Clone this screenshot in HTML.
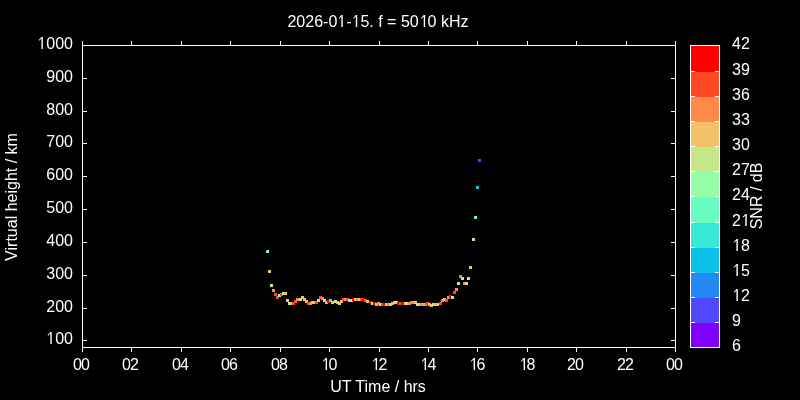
<!DOCTYPE html>
<html><head><meta charset="utf-8"><style>
html,body{margin:0;padding:0;background:#000;width:800px;height:400px;overflow:hidden}
svg{display:block;will-change:transform}
text.xl{letter-spacing:-1px}
text .h{fill-opacity:0}
text{font-family:"Liberation Sans",sans-serif;font-size:16px;fill:#fff}
</style></head><body>
<svg width="800" height="400" viewBox="0 0 800 400">
<rect width="800" height="400" fill="#000"/>
<g shape-rendering="crispEdges">
<rect x="691" y="323" width="28" height="25" fill="#8000ff"/><rect x="691" y="298" width="28" height="25" fill="#5148fc"/><rect x="691" y="273" width="28" height="25" fill="#238af5"/><rect x="691" y="248" width="28" height="25" fill="#0cc1e8"/><rect x="691" y="223" width="28" height="25" fill="#3ae8d7"/><rect x="691" y="197" width="28" height="26" fill="#68fcc1"/><rect x="691" y="172" width="28" height="25" fill="#97fca7"/><rect x="691" y="147" width="28" height="25" fill="#c5e88a"/><rect x="691" y="122" width="28" height="25" fill="#f3c16a"/><rect x="691" y="97" width="28" height="25" fill="#ff8a48"/><rect x="691" y="72" width="28" height="25" fill="#ff4824"/><rect x="691" y="46" width="28" height="26" fill="#ff0000"/>
<rect x="266" y="250" width="3" height="3" fill="#68fcc1"/><rect x="268" y="270" width="3" height="3" fill="#f3c16a"/><rect x="270" y="284" width="3" height="3" fill="#c5e88a"/><rect x="272" y="289" width="3" height="3" fill="#ff8a48"/><rect x="274" y="293" width="3" height="3" fill="#ff4824"/><rect x="276" y="296" width="3" height="3" fill="#ff4824"/><rect x="278" y="294" width="3" height="3" fill="#97fca7"/><rect x="280" y="293" width="3" height="3" fill="#ff4824"/><rect x="282" y="292" width="3" height="3" fill="#c5e88a"/><rect x="284" y="292" width="3" height="3" fill="#f3c16a"/><rect x="286" y="299" width="3" height="3" fill="#f3c16a"/><rect x="288" y="302" width="3" height="3" fill="#97fca7"/><rect x="290" y="302" width="3" height="3" fill="#f3c16a"/><rect x="292" y="302" width="3" height="3" fill="#ff4824"/><rect x="294" y="300" width="3" height="3" fill="#ff4824"/><rect x="296" y="298" width="3" height="3" fill="#ff8a48"/><rect x="299" y="298" width="3" height="3" fill="#c5e88a"/><rect x="301" y="296" width="3" height="3" fill="#f3c16a"/><rect x="303" y="298" width="3" height="3" fill="#f3c16a"/><rect x="305" y="300" width="3" height="3" fill="#f3c16a"/><rect x="307" y="302" width="3" height="3" fill="#ff4824"/><rect x="309" y="302" width="3" height="3" fill="#ff8a48"/><rect x="311" y="301" width="3" height="3" fill="#f3c16a"/><rect x="313" y="301" width="3" height="3" fill="#f3c16a"/><rect x="315" y="301" width="3" height="3" fill="#ff4824"/><rect x="317" y="299" width="3" height="3" fill="#c5e88a"/><rect x="319" y="296" width="3" height="3" fill="#ff4824"/><rect x="321" y="297" width="3" height="3" fill="#ff8a48"/><rect x="323" y="299" width="3" height="3" fill="#97fca7"/><rect x="325" y="301" width="3" height="3" fill="#f3c16a"/><rect x="327" y="300" width="3" height="3" fill="#ff0000"/><rect x="329" y="299" width="3" height="3" fill="#3ae8d7"/><rect x="331" y="301" width="3" height="3" fill="#f3c16a"/><rect x="334" y="300" width="3" height="3" fill="#c5e88a"/><rect x="336" y="301" width="3" height="3" fill="#f3c16a"/><rect x="338" y="302" width="3" height="3" fill="#c5e88a"/><rect x="340" y="300" width="3" height="3" fill="#f3c16a"/><rect x="342" y="298" width="3" height="3" fill="#ff4824"/><rect x="344" y="298" width="3" height="3" fill="#ff8a48"/><rect x="346" y="298" width="3" height="3" fill="#ff4824"/><rect x="348" y="299" width="3" height="3" fill="#97fca7"/><rect x="350" y="299" width="3" height="3" fill="#c5e88a"/><rect x="352" y="298" width="3" height="3" fill="#ff0000"/><rect x="354" y="298" width="3" height="3" fill="#f3c16a"/><rect x="356" y="298" width="3" height="3" fill="#ff8a48"/><rect x="358" y="298" width="3" height="3" fill="#f3c16a"/><rect x="360" y="298" width="3" height="3" fill="#ff4824"/><rect x="362" y="298" width="3" height="3" fill="#ff0000"/><rect x="364" y="299" width="3" height="3" fill="#ff4824"/><rect x="366" y="300" width="3" height="3" fill="#f3c16a"/><rect x="369" y="301" width="3" height="3" fill="#ff0000"/><rect x="371" y="302" width="3" height="3" fill="#c5e88a"/><rect x="373" y="302" width="3" height="3" fill="#ff0000"/><rect x="375" y="303" width="3" height="3" fill="#f3c16a"/><rect x="377" y="302" width="3" height="3" fill="#ff8a48"/><rect x="379" y="303" width="3" height="3" fill="#97fca7"/><rect x="381" y="303" width="3" height="3" fill="#ff4824"/><rect x="383" y="303" width="3" height="3" fill="#ff0000"/><rect x="385" y="303" width="3" height="3" fill="#f3c16a"/><rect x="387" y="303" width="3" height="3" fill="#ff8a48"/><rect x="389" y="303" width="3" height="3" fill="#f3c16a"/><rect x="391" y="302" width="3" height="3" fill="#f3c16a"/><rect x="393" y="301" width="3" height="3" fill="#f3c16a"/><rect x="395" y="301" width="3" height="3" fill="#c5e88a"/><rect x="397" y="302" width="3" height="3" fill="#ff0000"/><rect x="399" y="302" width="3" height="3" fill="#ff4824"/><rect x="401" y="302" width="3" height="3" fill="#ff0000"/><rect x="404" y="302" width="3" height="3" fill="#c5e88a"/><rect x="406" y="302" width="3" height="3" fill="#c5e88a"/><rect x="408" y="302" width="3" height="3" fill="#ff8a48"/><rect x="410" y="301" width="3" height="3" fill="#ff8a48"/><rect x="412" y="301" width="3" height="3" fill="#ff8a48"/><rect x="414" y="301" width="3" height="3" fill="#f3c16a"/><rect x="416" y="303" width="3" height="3" fill="#c5e88a"/><rect x="418" y="303" width="3" height="3" fill="#f3c16a"/><rect x="420" y="303" width="3" height="3" fill="#ff8a48"/><rect x="422" y="303" width="3" height="3" fill="#3ae8d7"/><rect x="424" y="303" width="3" height="3" fill="#ff8a48"/><rect x="426" y="302" width="3" height="3" fill="#ff4824"/><rect x="428" y="303" width="3" height="3" fill="#f3c16a"/><rect x="430" y="304" width="3" height="3" fill="#f3c16a"/><rect x="432" y="303" width="3" height="3" fill="#c5e88a"/><rect x="434" y="303" width="3" height="3" fill="#f3c16a"/><rect x="436" y="303" width="3" height="3" fill="#f3c16a"/><rect x="439" y="302" width="3" height="3" fill="#ff4824"/><rect x="441" y="299" width="3" height="3" fill="#ff8a48"/><rect x="443" y="298" width="3" height="3" fill="#f3c16a"/><rect x="445" y="299" width="3" height="3" fill="#ff4824"/><rect x="447" y="296" width="3" height="3" fill="#ff8a48"/><rect x="449" y="295" width="3" height="3" fill="#ff0000"/><rect x="451" y="296" width="3" height="3" fill="#c5e88a"/><rect x="453" y="291" width="3" height="3" fill="#ff4824"/><rect x="455" y="288" width="3" height="3" fill="#ff8a48"/><rect x="457" y="282" width="3" height="3" fill="#c5e88a"/><rect x="459" y="275" width="3" height="3" fill="#ff8a48"/><rect x="461" y="277" width="3" height="3" fill="#c5e88a"/><rect x="463" y="282" width="3" height="3" fill="#ff8a48"/><rect x="465" y="282" width="3" height="3" fill="#c5e88a"/><rect x="467" y="277" width="3" height="3" fill="#97fca7"/><rect x="469" y="266" width="3" height="3" fill="#f3c16a"/><rect x="472" y="238" width="3" height="3" fill="#c5e88a"/><rect x="474" y="216" width="3" height="3" fill="#68fcc1"/><rect x="476" y="186" width="3" height="3" fill="#0cc1e8"/><rect x="478" y="159" width="3" height="3" fill="#5148fc"/>
</g>
<path d="M82 45.5H676 M82 347.5H676 M82.5 45V348 M675.5 45V348 M82.5 41V45 M82.5 348V352 M131.5 41V45 M131.5 348V352 M181.5 41V45 M181.5 348V352 M230.5 41V45 M230.5 348V352 M280.5 41V45 M280.5 348V352 M329.5 41V45 M329.5 348V352 M379.5 41V45 M379.5 348V352 M428.5 41V45 M428.5 348V352 M477.5 41V45 M477.5 348V352 M527.5 41V45 M527.5 348V352 M576.5 41V45 M576.5 348V352 M626.5 41V45 M626.5 348V352 M675.5 41V45 M675.5 348V352 M83 45.5H87 M671 45.5H675 M83 78.5H87 M671 78.5H675 M83 111.5H87 M671 111.5H675 M83 143.5H87 M671 143.5H675 M83 176.5H87 M671 176.5H675 M83 209.5H87 M671 209.5H675 M83 242.5H87 M671 242.5H675 M83 275.5H87 M671 275.5H675 M83 308.5H87 M671 308.5H675 M83 340.5H87 M671 340.5H675" stroke="#fff" stroke-width="1" fill="none" shape-rendering="crispEdges"/>
<path d="M690.5 45V348 M719.5 45V348 M690 45.5H720 M690 347.5H720 M691 71.5H695 M715 71.5H719 M691 96.5H695 M715 96.5H719 M691 121.5H695 M715 121.5H719 M691 146.5H695 M715 146.5H719 M691 171.5H695 M715 171.5H719 M691 196.5H695 M715 196.5H719 M691 222.5H695 M715 222.5H719 M691 247.5H695 M715 247.5H719 M691 272.5H695 M715 272.5H719 M691 297.5H695 M715 297.5H719 M691 322.5H695 M715 322.5H719" stroke="#fff" stroke-width="1" fill="none" shape-rendering="crispEdges"/>
<text x="378" y="27" text-anchor="middle">2026-0<tspan class="h">1</tspan>-<tspan class="h">1</tspan>5. f = 50<tspan class="h">1</tspan>0 kHz</text>
<text x="73" y="49" text-anchor="end"><tspan class="h">1</tspan>000</text>
<text x="73" y="82" text-anchor="end">900</text>
<text x="73" y="115" text-anchor="end">800</text>
<text x="73" y="147" text-anchor="end">700</text>
<text x="73" y="180" text-anchor="end">600</text>
<text x="73" y="213" text-anchor="end">500</text>
<text x="73" y="246" text-anchor="end">400</text>
<text x="73" y="279" text-anchor="end">300</text>
<text x="73" y="312" text-anchor="end">200</text>
<text x="73" y="344" text-anchor="end"><tspan class="h">1</tspan>00</text>
<text x="73.1" y="370" text-anchor="start" class="xl">00</text>
<text x="122.1" y="370" text-anchor="start" class="xl">02</text>
<text x="172.1" y="370" text-anchor="start" class="xl">04</text>
<text x="221.1" y="370" text-anchor="start" class="xl">06</text>
<text x="271.1" y="370" text-anchor="start" class="xl">08</text>
<text x="320.7" y="370" text-anchor="start" class="xl"><tspan class="h">1</tspan>0</text>
<text x="370.7" y="370" text-anchor="start" class="xl"><tspan class="h">1</tspan>2</text>
<text x="419.7" y="370" text-anchor="start" class="xl"><tspan class="h">1</tspan>4</text>
<text x="468.7" y="370" text-anchor="start" class="xl"><tspan class="h">1</tspan>6</text>
<text x="518.7" y="370" text-anchor="start" class="xl"><tspan class="h">1</tspan>8</text>
<text x="567.1" y="370" text-anchor="start" class="xl">20</text>
<text x="617.1" y="370" text-anchor="start" class="xl">22</text>
<text x="666.1" y="370" text-anchor="start" class="xl">00</text>
<text x="378" y="392" text-anchor="middle">UT Time / hrs</text>
<text x="0" y="0" text-anchor="middle" transform="translate(17,197) rotate(-90)">Virtual height / km</text>
<text x="0" y="0" text-anchor="middle" transform="translate(762,196) rotate(-90)">SNR / dB</text>
<text x="732" y="49" text-anchor="start">42</text>
<text x="732" y="75" text-anchor="start">39</text>
<text x="732" y="100" text-anchor="start">36</text>
<text x="732" y="125" text-anchor="start">33</text>
<text x="732" y="150" text-anchor="start">30</text>
<text x="732" y="175" text-anchor="start">27</text>
<text x="732" y="200" text-anchor="start">24</text>
<text x="732" y="226" text-anchor="start">2<tspan class="h">1</tspan></text>
<text x="732" y="251" text-anchor="start"><tspan class="h">1</tspan>8</text>
<text x="732" y="276" text-anchor="start"><tspan class="h">1</tspan>5</text>
<text x="732" y="301" text-anchor="start"><tspan class="h">1</tspan>2</text>
<text x="732" y="326" text-anchor="start">9</text>
<text x="732" y="351" text-anchor="start">6</text>
<g fill="#fff"><path d="M515 0V1237L197 950V1100L530 1409H696V0Z" transform="translate(337.305,27) scale(0.0078125,-0.00852)"/><path d="M515 0V1237L197 950V1100L530 1409H696V0Z" transform="translate(351.789,27) scale(0.0078125,-0.00852)"/><path d="M515 0V1237L197 950V1100L530 1409H696V0Z" transform="translate(419.711,27) scale(0.0078125,-0.00852)"/><path d="M515 0V1237L197 950V1100L530 1409H696V0Z" transform="translate(37.391,49) scale(0.0078125,-0.00852)"/><path d="M515 0V1237L197 950V1100L530 1409H696V0Z" transform="translate(46.297,344) scale(0.0078125,-0.00852)"/><path d="M515 0V1237L197 950V1100L530 1409H696V0Z" transform="translate(321.600,370) scale(0.0078125,-0.00852)"/><path d="M515 0V1237L197 950V1100L530 1409H696V0Z" transform="translate(371.600,370) scale(0.0078125,-0.00852)"/><path d="M515 0V1237L197 950V1100L530 1409H696V0Z" transform="translate(420.600,370) scale(0.0078125,-0.00852)"/><path d="M515 0V1237L197 950V1100L530 1409H696V0Z" transform="translate(469.600,370) scale(0.0078125,-0.00852)"/><path d="M515 0V1237L197 950V1100L530 1409H696V0Z" transform="translate(519.600,370) scale(0.0078125,-0.00852)"/><path d="M515 0V1237L197 950V1100L530 1409H696V0Z" transform="translate(741.306,226) scale(0.0078125,-0.00852)"/><path d="M515 0V1237L197 950V1100L530 1409H696V0Z" transform="translate(732.400,251) scale(0.0078125,-0.00852)"/><path d="M515 0V1237L197 950V1100L530 1409H696V0Z" transform="translate(732.400,276) scale(0.0078125,-0.00852)"/><path d="M515 0V1237L197 950V1100L530 1409H696V0Z" transform="translate(732.400,301) scale(0.0078125,-0.00852)"/></g>
</svg>
</body></html>
